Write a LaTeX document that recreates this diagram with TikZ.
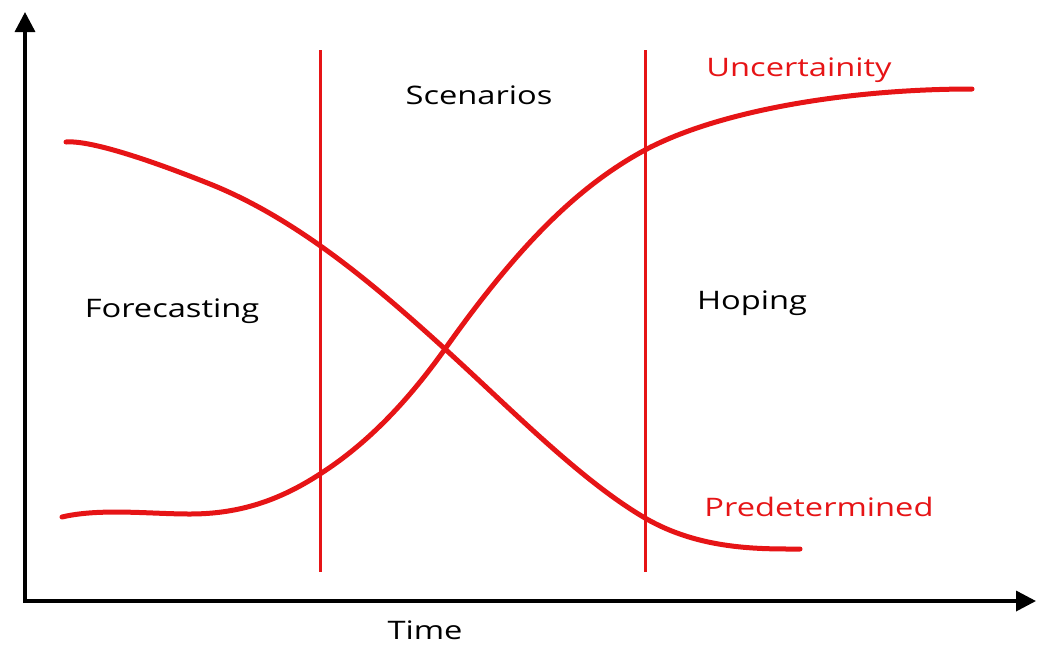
\documentclass[tikz,border=0pt]{standalone}
\usepackage{fontspec}
\setmainfont{Open Sans}
\usetikzlibrary{arrows.meta}
\definecolor{curvered}{RGB}{230,20,22}
\tikzset{
  axis/.style={line width=3.5pt,-{Triangle[width=20pt,length=20pt]}},
  divider/.style={curvered,line width=3pt},
  curve/.style={curvered,line width=5pt,line cap=round,line join=round},
  lbl/.style={font=\fontsize{25.5}{30}\selectfont,text=black,inner sep=0pt,xscale=1.28,anchor=base},
  redlbl/.style={lbl,text=curvered}
}
\begin{document}
\begin{tikzpicture}[x=1pt,y=-1pt]
\useasboundingbox (0,0) rectangle (1040,646);
\coordinate (origin) at (25,601);
\coordinate (ytop) at (25,12);
\coordinate (xend) at (1036,601);
\draw[axis] (25,603) -- (ytop);
\draw[axis] (23,601) -- (xend);
\coordinate (d1t) at (320,50);
\coordinate (d1b) at (320,572);
\coordinate (d2t) at (645,50);
\coordinate (d2b) at (645,572);
\draw[divider] (d1t) -- (d1b);
\draw[divider] (d2t) -- (d2b);
\coordinate (cross) at (445,349);
% Uncertainity
\draw[curve] (62,517) .. controls (100,508) and (150,514) .. (190,514)
  .. controls (240,514) and (280,500) .. (320,474)
  .. controls (370,442) and (410,398) .. (cross)
  .. controls (520,243) and (580,185) .. (645,150)
  .. controls (720,110) and (850,89) .. (972,89);
% Predetermined
\draw[curve] (66,142) .. controls (90,140) and (150,160) .. (210,184)
  .. controls (300,220) and (380,290) .. (cross)
  .. controls (510,408) and (580,480) .. (645,518)
  .. controls (700,550) and (760,549) .. (800,549);
\node[lbl] (scen) at (479,104) {Scenarios};
\node[lbl] (fore) at (172,317) {Forecasting};
\node[lbl] (hop) at (752,309) {Hoping};
\node[lbl] (time) at (425,639) {Time};
\node[redlbl] (unc) at (799,76) {Uncertainity};
\node[redlbl] (pre) at (819,516) {Predetermined};
\end{tikzpicture}
\end{document}
